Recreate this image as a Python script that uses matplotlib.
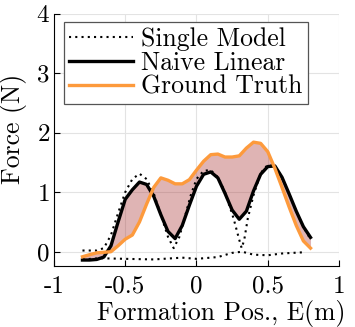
import numpy as np
import matplotlib
matplotlib.use('Agg')
from matplotlib import pyplot as plt

plt.rcParams['font.family'] = 'cmr10'
plt.rcParams['mathtext.fontset'] = 'cm'
plt.rcParams['axes.formatter.use_mathtext'] = True

# data
x = [-0.80, -0.75, -0.70, -0.65, -0.60, -0.55, -0.50, -0.45, -0.40, -0.35,
     -0.30, -0.25, -0.20, -0.15, -0.10, -0.05, 0.00, 0.05, 0.10, 0.15,
     0.20, 0.25, 0.30, 0.35, 0.40, 0.45, 0.50, 0.55, 0.60, 0.65,
     0.70, 0.75, 0.80]
naive = [-0.14, -0.14, -0.13, -0.09, 0.10, 0.50, 0.88, 1.04, 1.17, 1.13,
         0.93, 0.62, 0.34, 0.22, 0.44, 0.78, 1.10, 1.30, 1.34, 1.24,
         0.98, 0.70, 0.545, 0.68, 1.02, 1.30, 1.43, 1.44, 1.25, 0.97,
         0.68, 0.42, 0.24]
truth = [-0.085, -0.05, -0.02, -0.01, 0.0, 0.10, 0.21, 0.28, 0.50, 0.80,
         1.08, 1.24, 1.20, 1.14, 1.14, 1.21, 1.37, 1.52, 1.63, 1.64,
         1.59, 1.59, 1.61, 1.74, 1.84, 1.82, 1.68, 1.40, 1.08, 0.75,
         0.44, 0.18, 0.06]

single_x = [-0.80, -0.70, -0.65, -0.60, -0.55, -0.50, -0.45, -0.40, -0.35, -0.30,
            -0.25, -0.20, -0.16, -0.12, -0.08, -0.04, 0.00, 0.05, 0.10, 0.15,
            0.20, 0.26, 0.30, 0.317, 0.335, 0.36, 0.40, 0.45, 0.50, 0.55,
            0.60, 0.65, 0.70, 0.75, 0.79]
single_y = [0.02, 0.02, 0.06, 0.28, 0.65, 1.00, 1.22, 1.31, 1.22, 0.98,
            0.62, 0.25, 0.06, 0.25, 0.60, 0.95, 1.22, 1.36, 1.37, 1.25,
            1.00, 0.56, 0.20, 0.06, 0.20, 0.56, 0.95, 1.32, 1.46, 1.44,
            1.25, 0.97, 0.68, 0.42, 0.25]
base_x = [-0.80, -0.68, -0.50, -0.30, -0.10, 0.00, 0.15, 0.25, 0.32, 0.40, 0.50, 0.60, 0.75]
base_y = [-0.13, -0.11, -0.12, -0.13, -0.10, -0.12, -0.09, -0.02, 0.00, -0.05, -0.06, -0.03, -0.01]

xticks = [-1, -0.5, 0, 0.5, 1]
xticklabels = ['-1', '-0.5', '0', '0.5', '1']
yticks = [0, 1, 2, 3, 4]

fig = plt.figure(figsize=(3.55, 3.27), dpi=100)
ax = fig.add_axes([0.152, 0.1875, 0.803, 0.771])

ax.fill_between(x, naive, truth, color='#a52a2a', alpha=0.35, linewidth=0)
l1, = ax.plot(single_x, single_y, color='k', linestyle=(0, (1, 2)), linewidth=1.5)
ax.plot(base_x, base_y, color='k', linestyle=(0, (1, 2)), linewidth=1.5)
l2, = ax.plot(x, naive, color='k', linewidth=2.4)
l3, = ax.plot(x, truth, color='#fd9a3c', linewidth=2.4)

ax.set_xlim(-1, 1)
ax.set_ylim(-0.235, 4.0)
ax.set_xticks(xticks)
ax.set_xticklabels(xticklabels)
ax.set_yticks(yticks)
ax.grid(True, color='#e3e3e3', linewidth=0.8)
ax.set_axisbelow(True)
for s in ['top', 'right']:
    ax.spines[s].set_visible(False)
ax.tick_params(direction='in', length=4, labelsize=18)
ax.tick_params(axis='x', pad=7)
ax.tick_params(axis='y', pad=3)

ax.set_xlabel('Formation Pos., E(m)', fontsize=18.5)
ax.xaxis.set_label_coords(0.586, -0.135)
ax.set_ylabel('Force (N)', fontsize=18.5)
ax.yaxis.set_label_coords(-0.095, 0.542)

leg = ax.legend([l1, l2, l3], ['Single Model', 'Naive Linear', 'Ground Truth'],
                loc='upper left', bbox_to_anchor=(0.035, 0.965), borderaxespad=0,
                fontsize=18.5, fancybox=False, framealpha=1, edgecolor='#555555',
                handlelength=2.5, labelspacing=0.0, borderpad=0.2, handletextpad=0.3)
leg.get_frame().set_linewidth(0.9)

fig.savefig('out.png', dpi=100)
